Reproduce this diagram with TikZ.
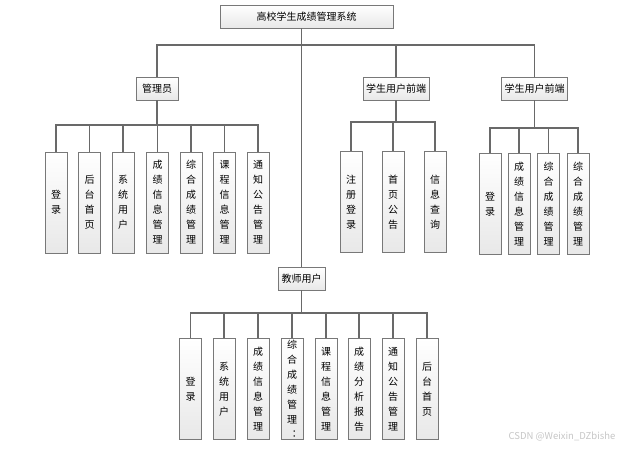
\documentclass[tikz,border=0pt]{standalone}
\usepackage{fontspec}
\setmainfont{Noto Sans CJK SC}
\usepackage{tikz}
\usetikzlibrary{shadows}
\definecolor{linegray}{RGB}{105,105,105}
\definecolor{boxgray}{RGB}{120,120,120}
\tikzset{
  box/.style={draw=boxgray, line width=0.9pt, top color=white, bottom color=gray!18,
    drop shadow={shadow xshift=0.9pt, shadow yshift=-0.9pt, fill=gray!70, opacity=1},
    minimum height=23pt, inner xsep=3pt, inner ysep=0pt, font=\fontsize{10}{12}\selectfont},
  leaf/.style={box, minimum width=22pt, minimum height=101pt, inner xsep=0pt, align=center,
    font=\fontsize{10}{15}\selectfont},
  link/.style={draw=linegray, line width=1.1pt}
}

\begin{document}
\begin{tikzpicture}[x=1pt,y=-1pt]
  \useasboundingbox (0,0) rectangle (628,449);
  % top level
  \node[box, minimum width=173pt] (root) at (306.5,16.5) {高校学生成绩管理系统};
  \node[box, minimum width=42pt] (adm) at (157,88.5) {管理员};
  \node[box, minimum width=65pt] (stuA) at (396,88.5) {学生用户前端};
  \node[box, minimum width=65pt] (stuB) at (534.5,88.5) {学生用户前端};
  \node[box, minimum width=47pt] (tea) at (301.5,278.5) {教师用户};

  % admin leaves
  \node[leaf] (adm1) at (56,202.5) {登\\录};
  \node[leaf] (adm2) at (89.5,202.5) {后\\台\\首\\页};
  \node[leaf] (adm3) at (123,202.5) {系\\统\\用\\户};
  \node[leaf] (adm4) at (157.5,202.5) {成\\绩\\信\\息\\管\\理};
  \node[leaf] (adm5) at (191,202.5) {综\\合\\成\\绩\\管\\理};
  \node[leaf] (adm6) at (224.5,202.5) {课\\程\\信\\息\\管\\理};
  \node[leaf] (adm7) at (258,202.5) {通\\知\\公\\告\\管\\理};

  % student front end, first
  \node[leaf] (stuA1) at (351,202) {注\\册\\登\\录};
  \node[leaf] (stuA2) at (393,202) {首\\页\\公\\告};
  \node[leaf] (stuA3) at (435,202) {信\\息\\查\\询};

  % student front end, second
  \node[leaf] (stuB1) at (490,204) {登\\录};
  \node[leaf] (stuB2) at (519,204) {成\\绩\\信\\息\\管\\理};
  \node[leaf] (stuB3) at (548.5,204) {综\\合\\成\\绩\\管\\理};
  \node[leaf] (stuB4) at (578,204) {综\\合\\成\\绩\\管\\理};

  % teacher leaves
  \node[leaf] (tea1) at (190.5,389) {登\\录};
  \node[leaf] (tea2) at (224,389) {系\\统\\用\\户};
  \node[leaf] (tea3) at (258,389) {成\\绩\\信\\息\\管\\理};
  \node[leaf] (tea4) at (292,389) {综\\合\\成\\绩\\管\\理\\︓};
  \node[leaf] (tea5) at (326,389) {课\\程\\信\\息\\管\\理};
  \node[leaf] (tea6) at (359,389) {成\\绩\\分\\析\\报\\告};
  \node[leaf] (tea7) at (393,389) {通\\知\\公\\告\\管\\理};
  \node[leaf] (tea8) at (427,389) {后\\台\\首\\页};

  % bus points
  \coordinate (mainbus) at (302,45);
  \coordinate (admbus) at (157,125);
  \coordinate (stuAbus) at (396,122);
  \coordinate (stuBbus) at (534.5,128);
  \coordinate (teabus) at (301.5,313);

  % connectors
  \draw[link] (root.south -| tea.north) -- (tea.north);
  \draw[link] (mainbus) -| (adm.north);
  \draw[link] (mainbus) -| (stuA.north);
  \draw[link] (mainbus) -| (stuB.north);

  \draw[link] (adm.south) -- (admbus);
  \draw[link] (admbus) -| (adm1.north);
  \draw[link] (admbus) -| (adm2.north);
  \draw[link] (admbus) -| (adm3.north);
  \draw[link] (admbus) -| (adm4.north);
  \draw[link] (admbus) -| (adm5.north);
  \draw[link] (admbus) -| (adm6.north);
  \draw[link] (admbus) -| (adm7.north);

  \draw[link] (stuA.south) -- (stuAbus);
  \draw[link] (stuAbus) -| (stuA1.north);
  \draw[link] (stuAbus) -| (stuA2.north);
  \draw[link] (stuAbus) -| (stuA3.north);

  \draw[link] (stuB.south) -- (stuBbus);
  \draw[link] (stuBbus) -| (stuB1.north);
  \draw[link] (stuBbus) -| (stuB2.north);
  \draw[link] (stuBbus) -| (stuB3.north);
  \draw[link] (stuBbus) -| (stuB4.north);

  \draw[link] (tea.south) -- (teabus);
  \draw[link] (teabus) -| (tea1.north);
  \draw[link] (teabus) -| (tea2.north);
  \draw[link] (teabus) -| (tea3.north);
  \draw[link] (teabus) -| (tea4.north);
  \draw[link] (teabus) -| (tea5.north);
  \draw[link] (teabus) -| (tea6.north);
  \draw[link] (teabus) -| (tea7.north);
  \draw[link] (teabus) -| (tea8.north);

  % watermark
  \node[text=gray!45, font=\fontsize{9.5}{11}\selectfont] (mark) at (562,437) {CSDN @Weixin\_DZbishe};
\end{tikzpicture}
\end{document}
